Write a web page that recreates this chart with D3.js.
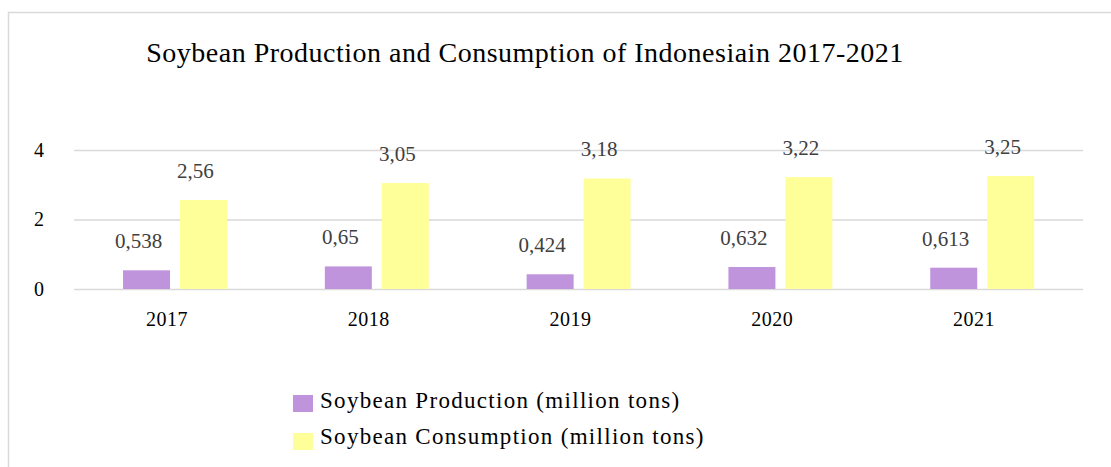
<!DOCTYPE html>
<html>
<head>
<meta charset="utf-8">
<script src="https://cdn.jsdelivr.net/npm/d3@7"></script>
<style>
  body { margin: 0; background: #fff; }
  svg { display: block; }
  text { font-family: "Liberation Serif", "DejaVu Serif", serif; }
</style>
</head>
<body>
<div class="chart"></div>
<script>
// data
const years = ['2017', '2018', '2019', '2020', '2021'];
const production = [0.538, 0.65, 0.424, 0.632, 0.613];
const consumption = [2.56, 3.05, 3.18, 3.22, 3.25];
const valueLabelsProd = ['0,538', '0,65', '0,424', '0,632', '0,613'];
const valueLabelsCons = ['2,56', '3,05', '3,18', '3,22', '3,25'];
const yTicks = [0, 2, 4];
const seriesNames = ['Soybean Production (million tons)', 'Soybean Consumption (million tons)'];
const seriesColors = ['#bf94dd', '#ffff99'];
const title = 'Soybean Production and Consumption of Indonesiain 2017-2021';

const width = 1111, height = 467;
const plot = {left: 74, right: 1083, top: 150, bottom: 289};

const svg = d3.select('.chart').append('svg')
    .attr('width', width).attr('height', height);

// outer frame (only top and left visible)
svg.append('rect')
    .attr('x', 8.5).attr('y', 12.5)
    .attr('width', 1300).attr('height', 700)
    .style('fill', 'none').style('stroke', '#d9d9d9').style('stroke-width', 1.5);

// title
svg.append('text')
    .attr('x', 525).attr('y', 62)
    .style('text-anchor', 'middle')
    .style('font-size', '28px')
    .style('letter-spacing', '0.5px')
    .style('fill', '#000')
    .text(title);

// scales
const xScale = d3.scaleBand().domain(years).range([plot.left, plot.right]);
const bw = xScale.bandwidth();
const inner = d3.scaleBand().domain([0, 1])
    .range([bw * 0.243, bw * 0.758]).paddingInner(0.175);
const yScale = d3.scaleLinear().domain([0, 4]).range([plot.bottom, plot.top]);

// gridlines + y labels
const yAxis = d3.axisLeft(yScale)
    .tickValues(yTicks)
    .tickFormat(d3.format('d'))
    .tickSizeInner(-(plot.right - plot.left))
    .tickSizeOuter(0)
    .tickPadding(30);
const yAxisDraw = svg.append('g')
    .attr('class', 'y axis')
    .attr('transform', `translate(${plot.left},0)`)
    .call(yAxis);
yAxisDraw.select('.domain').remove();
yAxisDraw.selectAll('.tick line').style('stroke', '#d9d9d9').style('stroke-width', 1.5);
yAxisDraw.selectAll('.tick text')
    .style('font-size', '20px').style('fill', '#000')
    .style('font-family', '"Liberation Serif", serif');

// x labels
const xAxis = d3.axisBottom(xScale).tickSize(0).tickPadding(0);
const xAxisDraw = svg.append('g')
    .attr('class', 'x axis')
    .attr('transform', `translate(-8,${plot.bottom})`)
    .call(xAxis);
xAxisDraw.select('.domain').remove();
xAxisDraw.selectAll('.tick text')
    .attr('dy', null).attr('y', 37)
    .style('font-size', '20px').style('letter-spacing', '0.5px').style('fill', '#000')
    .style('font-family', '"Liberation Serif", serif');

// bars
const rows = years.map((y, i) => ({
    year: y,
    values: [
        {s: 0, v: production[i], label: valueLabelsProd[i]},
        {s: 1, v: consumption[i], label: valueLabelsCons[i]}
    ]
}));

const groups = svg.append('g').attr('class', 'bars')
    .selectAll('g').data(rows).enter()
    .append('g')
    .attr('transform', d => `translate(${xScale(d.year)},0)`);

groups.selectAll('rect').data(d => d.values).enter()
    .append('rect')
    .attr('x', d => inner(d.s))
    .attr('width', inner.bandwidth())
    .attr('y', d => yScale(d.v))
    .attr('height', d => yScale(0) - yScale(d.v))
    .style('fill', d => seriesColors[d.s]);

groups.selectAll('text').data(d => d.values).enter()
    .append('text')
    .attr('x', d => inner(d.s) + inner.bandwidth() / 2 - 8)
    .attr('y', d => yScale(d.v) - 22)
    .style('text-anchor', 'middle')
    .style('font-size', '21px')
    .style('fill', '#404040')
    .text(d => d.label);

// legend
const legend = svg.append('g').attr('class', 'legend')
    .attr('transform', 'translate(293,395)');
const items = legend.selectAll('g').data(seriesNames).enter()
    .append('g')
    .attr('transform', (d, i) => `translate(0,${i * 38})`);
items.append('rect')
    .attr('width', 20).attr('height', 17)
    .style('fill', (d, i) => seriesColors[i]);
items.append('text')
    .attr('x', 27).attr('y', 13)
    .attr('dy', (d, i) => i === 0 ? 0 : -2)
    .style('font-size', '23px')
    .style('letter-spacing', '1.3px')
    .style('fill', '#000')
    .text(d => d);
</script>
</body>
</html>
